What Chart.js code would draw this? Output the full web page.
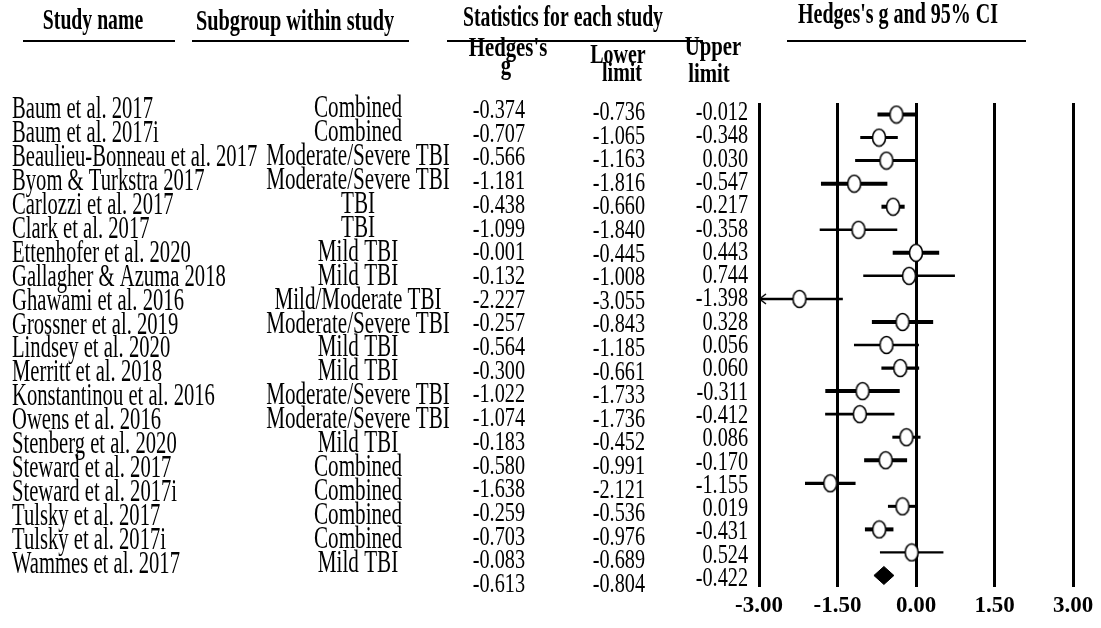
<!DOCTYPE html>
<html>
<head>
<meta charset="utf-8">
<title>Forest plot - Hedges's g</title>
<script src="https://cdn.jsdelivr.net/npm/chart.js@4.4.1/dist/chart.umd.min.js"></script>
<style>
  html, body { margin: 0; padding: 0; background: #fff; }
  #wrap { width: 1101px; height: 628px; }
</style>
</head>
<body>
<div id="wrap"><canvas id="forest" width="1101" height="628"></canvas></div>
<script>
// --- data ---
const studyNames = [
  'Baum et al. 2017', 'Baum et al. 2017i', 'Beaulieu-Bonneau et al. 2017', 'Byom & Turkstra 2017',
  'Carlozzi et al. 2017', 'Clark et al. 2017', 'Ettenhofer et al. 2020', 'Gallagher & Azuma 2018',
  'Ghawami et al. 2016', 'Grossner et al. 2019', 'Lindsey et al. 2020', 'Merritt et al. 2018',
  'Konstantinou et al. 2016', 'Owens et al. 2016', 'Stenberg et al. 2020', 'Steward et al. 2017',
  'Steward et al. 2017i', 'Tulsky et al. 2017', 'Tulsky et al. 2017i', 'Wammes et al. 2017'
];
const subgroups = [
  'Combined', 'Combined', 'Moderate/Severe TBI', 'Moderate/Severe TBI',
  'TBI', 'TBI', 'Mild TBI', 'Mild TBI',
  'Mild/Moderate TBI', 'Moderate/Severe TBI', 'Mild TBI', 'Mild TBI',
  'Moderate/Severe TBI', 'Moderate/Severe TBI', 'Mild TBI', 'Combined',
  'Combined', 'Combined', 'Combined', 'Mild TBI'
];
const hedgesG = [-0.374, -0.707, -0.566, -1.181, -0.438, -1.099, -0.001, -0.132, -2.227, -0.257,
                 -0.564, -0.300, -1.022, -1.074, -0.183, -0.580, -1.638, -0.259, -0.703, -0.083];
const lowerLimit = [-0.736, -1.065, -1.163, -1.816, -0.660, -1.840, -0.445, -1.008, -3.055, -0.843,
                    -1.185, -0.661, -1.733, -1.736, -0.452, -0.991, -2.121, -0.536, -0.976, -0.689];
const upperLimit = [-0.012, -0.348, 0.030, -0.547, -0.217, -0.358, 0.443, 0.744, -1.398, 0.328,
                    0.056, 0.060, -0.311, -0.412, 0.086, -0.170, -1.155, 0.019, -0.431, 0.524];
// pooled estimate (last row, no name)
const summaryG = -0.613;
const summaryLower = -0.804;
const summaryUpper = -0.422;

const xTickValues = [-3, -1.5, 0, 1.5, 3];
const xTickLabels = ['-3.00', '-1.50', '0.00', '1.50', '3.00'];

// --- styling ---
const ciWeights = [4, 3, 3, 4, 4, 2.5, 4, 2.5, 2.5, 4, 2.7, 3.3, 4, 2.7, 3, 4, 3.3, 3, 4, 2.3];
const SERIF = '"Liberation Serif", "Times New Roman", serif';
const diamondHalf = 0.39; // in row units

const nRows = studyNames.length;
const summaryRow = nRows;

// open ellipse marker (the figure is horizontally squeezed, so circles look oval)
const makeEllipse = () => {
  const c = document.createElement('canvas');
  c.width = 16; c.height = 20;
  const g = c.getContext('2d');
  g.beginPath();
  g.ellipse(8, 10, 6.5, 8.5, 0, 0, Math.PI * 2);
  g.fillStyle = '#fff';
  g.fill();
  g.lineWidth = 1.6;
  g.strokeStyle = '#000';
  g.stroke();
  return c;
};

// left-pointing chevron, tip at the centre of the image
const makeChevron = () => {
  const c = document.createElement('canvas');
  c.width = 18; c.height = 14;
  const g = c.getContext('2d');
  g.beginPath();
  g.moveTo(16, 2);
  g.lineTo(9.5, 7);
  g.lineTo(16, 12);
  g.lineWidth = 1.5;
  g.strokeStyle = '#000';
  g.stroke();
  return c;
};

const xMin = xTickValues[0];
const xMax = xTickValues[xTickValues.length - 1];

// confidence-interval lines, one dataset per study
const ciSets = studyNames.map((name, i) => ({
  type: 'scatter',
  label: name,
  data: [{ x: lowerLimit[i], y: i }, { x: upperLimit[i], y: i }],
  showLine: true,
  borderColor: '#000',
  borderWidth: ciWeights[i],
  pointRadius: 0,
  clip: 0,
  order: 2
}));

const pointSet = {
  type: 'scatter',
  label: 'Hedges g',
  data: hedgesG.map((g, i) => ({ x: g, y: i })),
  pointStyle: makeEllipse(),
  pointRadius: 8,
  clip: false,
  order: 0
};

// arrow where a CI runs past the axis
const arrowSet = {
  type: 'scatter',
  label: 'truncated',
  data: lowerLimit.map((v, i) => v < xMin ? { x: xMin, y: i } : null).filter(Boolean),
  pointStyle: makeChevron(),
  pointRadius: 7,
  clip: false,
  order: 1
};

const diamondSet = {
  type: 'scatter',
  label: 'Summary',
  data: [
    { x: summaryLower, y: summaryRow },
    { x: summaryG, y: summaryRow - diamondHalf },
    { x: summaryUpper, y: summaryRow },
    { x: summaryG, y: summaryRow + diamondHalf },
    { x: summaryLower, y: summaryRow }
  ],
  showLine: true,
  fill: 'shape',
  backgroundColor: '#000',
  borderColor: '#000',
  borderWidth: 1,
  pointRadius: 0,
  clip: false,
  order: 0
};

// helper: horizontally condensed text
const drawText = (ctx, str, x, y, font, sx, align) => {
  ctx.save();
  ctx.font = font;
  ctx.fillStyle = '#000';
  ctx.textBaseline = 'middle';
  ctx.textAlign = align;
  ctx.translate(x, y);
  ctx.scale(sx, 1);
  ctx.fillText(str, 0, 0);
  ctx.restore();
};

const tablePlugin = {
  id: 'forestTable',
  afterDraw(chart) {
    const ctx = chart.ctx;
    const hFont = 'bold 29px ' + SERIF;
    const sFont = 'bold 27px ' + SERIF;
    const tFont = '32px ' + SERIF;
    const nFont = '27px ' + SERIF;

    // column headers
    drawText(ctx, 'Study name', 93, 22, hFont, 0.68, 'center');
    drawText(ctx, 'Subgroup within study', 295, 23, hFont, 0.7, 'center');
    drawText(ctx, 'Statistics for each study', 563, 19, hFont, 0.68, 'center');
    drawText(ctx, "Hedges's g and 95% CI", 898, 16, hFont, 0.69, 'center');

    ctx.save();
    ctx.strokeStyle = '#000';
    ctx.lineWidth = 2;
    [[23, 175], [192, 409], [447, 703], [787, 1026]].forEach(([a, b]) => {
      ctx.beginPath(); ctx.moveTo(a, 41); ctx.lineTo(b, 41); ctx.stroke();
    });
    ctx.restore();

    drawText(ctx, "Hedges's", 508, 49, sFont, 0.77, 'center');
    drawText(ctx, 'g', 506, 67, sFont, 0.77, 'center');
    drawText(ctx, 'Lower', 618, 56, sFont, 0.74, 'center');
    drawText(ctx, 'limit', 622, 74, sFont, 0.74, 'center');
    drawText(ctx, 'Upper', 713, 48, sFont, 0.77, 'center');
    drawText(ctx, 'limit', 709, 75, sFont, 0.77, 'center');

    // rows of the table
    studyNames.forEach((s, i) => {
      drawText(ctx, s, 12, 110 + 23.9 * i, tFont, 0.645, 'left');
      drawText(ctx, subgroups[i], 358, 109 + 23.9 * i, tFont, 0.66, 'center');
    });
    const gCol = hedgesG.concat([summaryG]);
    const loCol = lowerLimit.concat([summaryLower]);
    const upCol = upperLimit.concat([summaryUpper]);
    gCol.forEach((v, i) => {
      drawText(ctx, v.toFixed(3), 525, 111 + 23.7 * i, nFont, 0.75, 'right');
      drawText(ctx, loCol[i].toFixed(3), 645, 113 + 23.6 * i, nFont, 0.75, 'right');
      drawText(ctx, upCol[i].toFixed(3), 748, 113 + 23.3 * i, nFont, 0.75, 'right');
    });
  }
};

new Chart(document.getElementById('forest'), {
  type: 'scatter',
  data: { datasets: [...ciSets, arrowSet, pointSet, diamondSet] },
  options: {
    responsive: false,
    animation: false,
    devicePixelRatio: 1,
    layout: { padding: { left: 759, right: 28, top: 103, bottom: 0 } },
    plugins: { legend: { display: false }, tooltip: { enabled: false } },
    scales: {
      x: {
        type: 'linear',
        min: xMin,
        max: xMax,
        afterBuildTicks: (s) => { s.ticks = xTickValues.map(v => ({ value: v })); },
        afterFit: (s) => { s.height = 41; },
        ticks: {
          callback: (v, i) => xTickLabels[i],
          color: '#000',
          font: { family: SERIF, size: 23, weight: 'bold' },
          padding: 5,
          maxRotation: 0,
          autoSkip: false
        },
        grid: { color: '#000', lineWidth: 3, drawTicks: false },
        border: { display: false }
      },
      y: {
        type: 'linear',
        min: -0.5,
        max: nRows + 0.5,
        reverse: true,
        display: false
      }
    }
  },
  plugins: [tablePlugin]
});
</script>
</body>
</html>
